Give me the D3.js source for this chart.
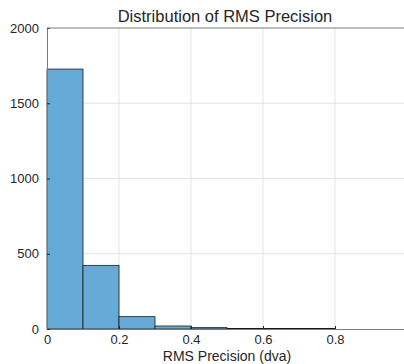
<!DOCTYPE html>
<html>
<head>
<meta charset="utf-8">
<script src="https://cdn.jsdelivr.net/npm/d3@7"></script>
<style>
  body { margin: 0; background: #fff; }
  text { font-family: "Liberation Sans", Arial, sans-serif; fill: #262626; }
</style>
</head>
<body>
<div id="chart"></div>
<script>
// histogram bins (edges in dva) and counts
var binStarts = [0, 0.1, 0.2, 0.3, 0.4, 0.5, 0.6, 0.7];
var binWidth = 0.1;
var counts = [1727, 423, 82, 20, 9, 4, 3, 3];

var xTicks = [0, 0.2, 0.4, 0.6, 0.8];
var yTicks = [0, 500, 1000, 1500, 2000];

var margin = {top: 28, right: -3, bottom: 35, left: 47},
    width = 404 - margin.left - margin.right,
    height = 364 - margin.top - margin.bottom;

var x = d3.scaleLinear()
    .domain([0, 1])
    .range([0, width]);

var y = d3.scaleLinear()
    .domain([0, 2000])
    .range([height, 0]);

var svg = d3.select("#chart").append("svg")
    .attr("width", 404)
    .attr("height", 364)
    .append("g")
    .attr("transform", "translate(" + margin.left + "," + margin.top + ")");

// grid
svg.selectAll(".gx").data(xTicks.slice(1))
  .enter().append("line")
    .attr("x1", function(d) { return x(d); })
    .attr("x2", function(d) { return x(d); })
    .attr("y1", 0).attr("y2", height)
    .attr("stroke", "#e3e3e3").attr("stroke-width", 1);

svg.selectAll(".gy").data(yTicks.slice(1, -1))
  .enter().append("line")
    .attr("x1", 0).attr("x2", width)
    .attr("y1", function(d) { return y(d); })
    .attr("y2", function(d) { return y(d); })
    .attr("stroke", "#e3e3e3").attr("stroke-width", 1);

// bars
var bins = binStarts.map(function(s, i) { return {x0: s, x1: s + binWidth, n: counts[i]}; });

svg.selectAll(".bar").data(bins)
  .enter().append("rect")
    .attr("x", function(d) { return x(d.x0); })
    .attr("width", function(d) { return x(d.x1) - x(d.x0); })
    .attr("y", function(d) { return y(d.n); })
    .attr("height", function(d) { return height - y(d.n); })
    .attr("fill", "#66aad7")
    .attr("stroke", "#1a1a1a")
    .attr("stroke-width", 0.8);

// axes (matlab style: ticks inside, box)
var xAxis = d3.axisBottom(x).tickValues(xTicks).tickSizeInner(-3).tickSizeOuter(0)
    .tickPadding(6).tickFormat(d3.format("~g"));
var yAxis = d3.axisLeft(y).tickValues(yTicks).tickSizeInner(-3).tickSizeOuter(0)
    .tickPadding(8).tickFormat(d3.format("d"));

var gx = svg.append("g").attr("transform", "translate(0," + height + ")").call(xAxis);
var gy = svg.append("g").call(yAxis);

[gx, gy].forEach(function(g) {
  g.select(".domain").attr("stroke", "#7a7a7a");
  g.selectAll(".tick line").attr("stroke", "#262626");
  g.selectAll("text").style("font-size", "13px").attr("fill", "#262626")
    .style("font-family", "'Liberation Sans', Arial, sans-serif");
});

svg.append("line")
    .attr("x1", 0).attr("x2", width).attr("y1", 0).attr("y2", 0)
    .attr("stroke", "#7a7a7a");

svg.append("text")
    .attr("x", width / 2 - 2).attr("y", -6)
    .attr("text-anchor", "middle")
    .style("font-size", "16.5px")
    .text("Distribution of RMS Precision");

svg.append("text")
    .attr("x", width / 2).attr("y", height + 32)
    .attr("text-anchor", "middle")
    .style("font-size", "14px")
    .text("RMS Precision (dva)");
</script>
</body>
</html>
